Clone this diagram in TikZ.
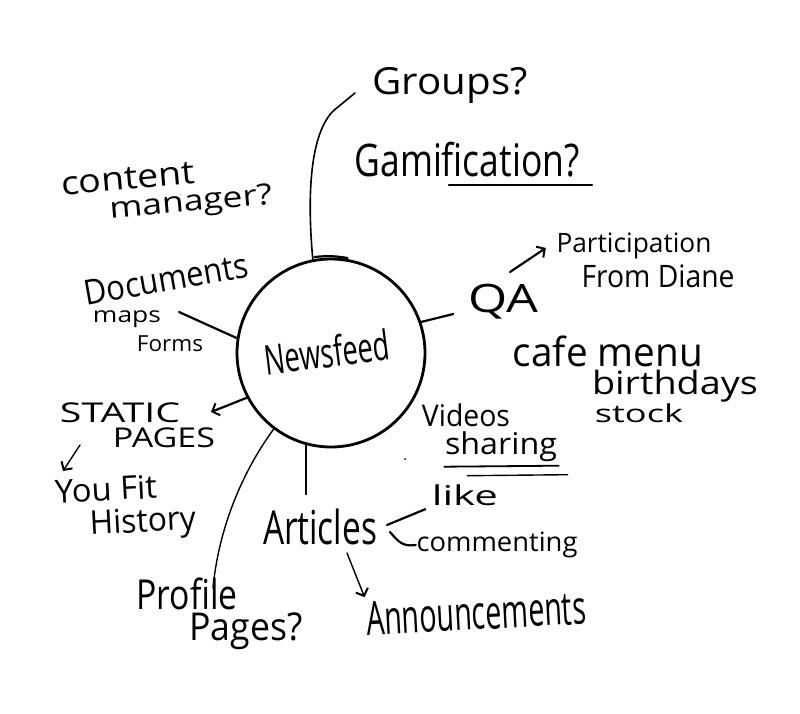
\documentclass[tikz,border=0pt]{standalone}
\usepackage{fontspec}
\setmainfont{Open Sans}
\usetikzlibrary{arrows.meta,calc}
\newcommand{\hw}[3]{\resizebox*{#1pt}{#2pt}{#3}}
\tikzset{
  lbl/.style={inner sep=0.5pt, text=black},
  hub/.style={circle, draw, line width=2.8pt, minimum size=188pt, inner sep=0pt},
  stroke/.style={line width=2.2pt, line cap=round, line join=round},
  thin stroke/.style={line width=1.4pt, line cap=round},
  barb/.style={-{Straight Barb[length=6pt,width=13pt,line width=2pt]}}
}
\begin{document}
\begin{tikzpicture}[x=1pt,y=-1pt]
\useasboundingbox[fill=white] (0,0) rectangle (800,714);

% hub
\node[hub] (news) at (331,353) {};
\node[lbl, rotate=7] (nft) at (327,352) {\hw{126}{32}{Newsfeed}};
\draw[stroke] ($(news.100)+(0,-2)$) to[bend left=8] ($(news.80)+(0,-1)$);

% top
\node[lbl] (groups) at (450,85) {\hw{155}{36}{Groups?}};
\node[lbl] (gamif) at (467,160) {\hw{225}{35}{Gamification?}};
\draw[thin stroke, line width=1.8pt] ($(gamif.south west)+(95,7)$) -- ($(gamif.south east)+(12,7)$);
\coordinate (gend) at (355,93);
\draw[thin stroke, line width=1.6pt] (news.101) .. controls (306,185) and (312,125) .. (338,107) -- (gend);

% content manager
\node[lbl, rotate=5] (content) at (128,179) {\hw{134}{22}{content}};
\node[lbl, rotate=5] (manager) at (191,204) {\hw{163}{28}{manager?}};

% documents
\node[lbl, rotate=10] (docs) at (166,279) {\hw{166}{25}{Documents}};
\node[lbl] (maps) at (127,319) {\hw{68}{17}{maps}};
\node[lbl] (forms) at (170,344) {\hw{66}{16}{Forms}};
\coordinate (docl) at (179,312);
\draw[stroke] (docl) -- (news.171);

% static pages
\node[lbl] (static) at (120,413) {\hw{120}{20}{STATIC}};
\node[lbl] (pages) at (164,438) {\hw{102}{20}{PAGES}};
\coordinate (sa) at (211,412);
\draw[stroke, barb] (news.208) -- (sa);
\coordinate (ya1) at (80,445);
\coordinate (ya2) at (63,471);
\draw[thin stroke, barb] (ya1) -- (ya2);
\node[lbl, rotate=3] (youfit) at (106,489) {\hw{102}{24}{You Fit}};
\node[lbl, rotate=3] (history) at (143,524) {\hw{106}{32}{History}};

% profile pages
\node[lbl] (profile) at (187,594) {\hw{101}{32}{Profile}};
\node[lbl] (ppages) at (246,631) {\hw{113}{37}{Pages?}};
\coordinate (pend) at (213,588);
\draw[thin stroke] (news.233) .. controls (238,478) and (218,535) .. (pend);

% articles
\node[lbl] (arts) at (320,527) {\hw{114}{36}{Articles}};
\draw[stroke] (news.255) -- ($(news.255 |- arts.north)+(0,-14)$);
\node[lbl] (like) at (465,495) {\hw{66}{21}{like}};
\node[lbl] (comm) at (497,545) {\hw{161}{26}{commenting}};
\coordinate (br1) at (387,525);
\coordinate (br2) at (390,532);
\draw[stroke] (br1) -- ($(like.south west)+(-6,3)$);
\draw[stroke] (br2) .. controls (398,541) and (402,547) .. (comm.west);
\node[lbl, rotate=3] (ann) at (476,613) {\hw{220}{34}{Announcements}};
\coordinate (aa) at (347,553);
\draw[thin stroke, barb] (aa) -- ($(ann.north west)+(0,-4)$);

% videos sharing
\node[lbl] (videos) at (466,415) {\hw{88}{23}{Videos}};
\node[lbl] (sharing) at (501,447) {\hw{112}{30}{sharing}};
\draw[thin stroke, line width=1.8pt] ($(sharing.south west)+(0,4)$) -- ($(sharing.south east)+(1,3)$);
\draw[thin stroke] ($(sharing.south west)+(23,13)$) -- ($(sharing.south east)+(10,12)$);
\fill (405,459) circle (1pt);

% QA
\node[lbl] (qa) at (503,302) {\hw{70}{35}{QA}};
\draw[stroke] (news.19) -- ($(qa.west)+(-14,12)$);
\node[lbl] (part) at (634,246) {\hw{155}{26}{Participation}};
\node[lbl] (diane) at (658,276) {\hw{153}{23}{From Diane}};
\coordinate (pa1) at (510,272);
\draw[stroke, barb] (pa1) -- ($(part.west)+(-10,2)$);

% cafe
\node[lbl] (cafe) at (608,351) {\hw{190}{31}{cafe menu}};
\node[lbl] (bday) at (675,386) {\hw{166}{32}{birthdays}};
\node[lbl] (stock) at (639,413) {\hw{88}{19}{stock}};
\end{tikzpicture}
\end{document}
